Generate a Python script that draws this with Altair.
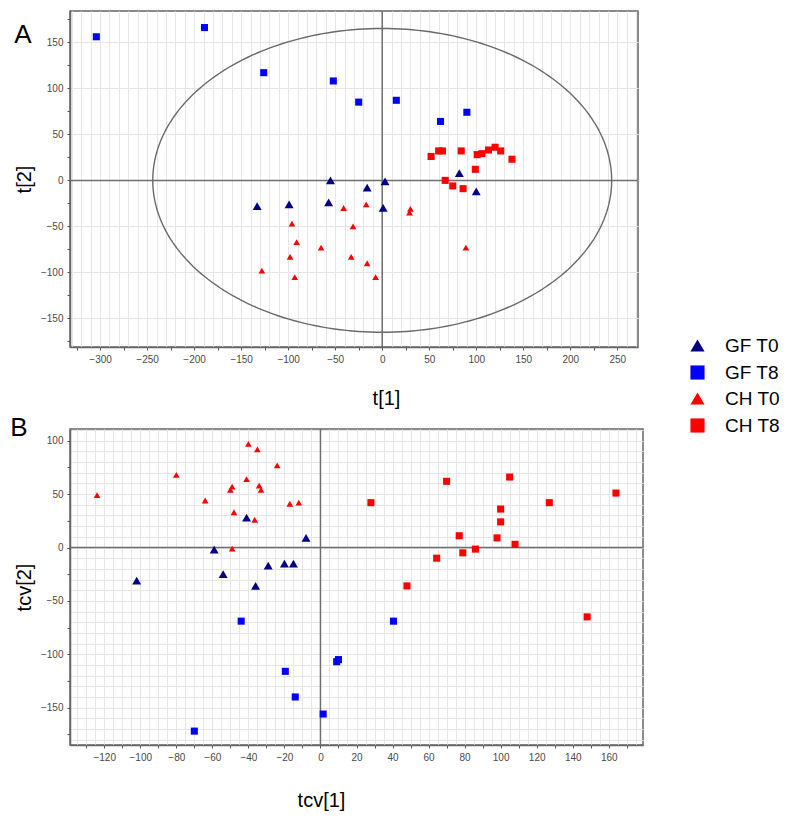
import altair as alt
import numpy as np
import pandas as pd

groups = ["GF T0", "GF T8", "CH T0", "CH T8"]
colors = ["#000080", "#0000ff", "#ff0000", "#ff0000"]
shapes = ["triangle-up", "square", "triangle-up", "square"]
sizes = [80, 50, 45, 50]

# Panel A (scores t[1], t[2])
a_gf_t0_x = [-133, -99, -55, -57, -16, 3, 1, 82, 100]
a_gf_t0_y = [-28, -26, 0, -24, -8, -1, -30, 8, -12]
a_gf_t8_x = [-304, -189, -126, -52, -25, 15, 62, 90]
a_gf_t8_y = [156, 166, 117, 108, 85, 87, 64, 74]
a_ch_t0_x = [-128, -96, -91, -98, -93, -65, -41, -31, -33, -17, -16, -7, 29, 30, 89]
a_ch_t0_y = [-98, -47, -67, -83, -105, -73, -30, -50, -83, -26, -90, -105, -35, -31, -73]
a_ch_t8_x = [52, 60, 64, 84, 67, 75, 86, 99, 101, 106, 113, 120, 126, 138]
a_ch_t8_y = [26, 32, 32, 32, 0, -6, -9, 12, 28, 29, 33, 36, 32, 23]

# Panel B (cross-validated scores tcv[1], tcv[2])
b_gf_t0_x = [-102, -59, -54, -41, -36, -29, -20, -15, -8]
b_gf_t0_y = [-31, -2, -25, 28, -36, -17, -15, -15, 9]
b_gf_t8_x = [-44, -70, -19.5, -14, 1.5, 9, 10, 40.5]
b_gf_t8_y = [-69, -172, -116, -140, -156, -107, -105, -69]
b_ch_t0_x = [-124, -80, -64, -49, -50, -48, -49, -40, -35, -41, -34, -33, -36.5, -24, -17, -12]
b_ch_t0_y = [49, 68, 44, 57, 54, 33, -1, 97, 92, 64, 58, 54, 26, 77, 41, 42]
b_ch_t8_x = [28, 70, 105, 164, 127, 100, 100, 77, 98, 108, 86, 79, 64.5, 48, 148]
b_ch_t8_y = [42, 62, 66, 51, 42, 36, 24, 11, 9, 3, -1.5, -5, -10, -36, -65]

# Hotelling T2 ellipse semi-axes (panel A)
ell_a, ell_b = 244, 165


def frame(series):
    rows = []
    for g, xs, ys in series:
        for x, y in zip(xs, ys):
            rows.append({"x": x, "y": y, "group": g})
    return pd.DataFrame(rows)


dfA = frame([("GF T0", a_gf_t0_x, a_gf_t0_y), ("GF T8", a_gf_t8_x, a_gf_t8_y),
             ("CH T0", a_ch_t0_x, a_ch_t0_y), ("CH T8", a_ch_t8_x, a_ch_t8_y)])
dfB = frame([("GF T0", b_gf_t0_x, b_gf_t0_y), ("GF T8", b_gf_t8_x, b_gf_t8_y),
             ("CH T0", b_ch_t0_x, b_ch_t0_y), ("CH T8", b_ch_t8_x, b_ch_t8_y)])

th = np.linspace(0, 2 * np.pi, 241)
dfE = pd.DataFrame({"x": ell_a * np.cos(th), "y": ell_b * np.sin(th), "o": np.arange(len(th))})

FONT = "Liberation Sans"


def cond(mod):
    return {"condition": {"test": f"datum.value % {mod} === 0", "value": 1}, "value": 0}


def make_axis(title, vals, gmod, tmod, lmod, tpad, **kw):
    return alt.Axis(
        title=title, values=vals, tickCount=1000, format="d", grid=True,
        gridColor="#e6e6e6", gridWidth=1,
        gridOpacity=cond(gmod), tickOpacity=cond(tmod), tickSize=3, tickColor="#555",
        labelExpr=f"datum.value % {lmod} === 0 ? datum.label : ''", labelOverlap=False,
        labelFont=FONT, labelFontSize=10, labelColor="#4a4a4a", labelPadding=4,
        domainColor="#666", domainWidth=1.5, titleFont=FONT, titleFontSize=20,
        titleFontWeight="normal", titleColor="#000", titlePadding=tpad, **kw,
    )


LEG = dict(orient="none", legendX=618, legendY=325, title=None, labelFont=FONT,
           labelFontSize=19, labelColor="#000", symbolSize=200, rowPadding=6,
           symbolOpacity=1, labelOffset=18)


def panel(df, xdom, ydom, xaxis, yaxis, w, h, label, lx, ly, ellipse=False):
    xs = alt.Scale(domain=xdom, nice=False, zero=False)
    ys = alt.Scale(domain=ydom, nice=False, zero=False)
    enc = dict(
        x=alt.X("x:Q", scale=xs, axis=xaxis),
        y=alt.Y("y:Q", scale=ys, axis=yaxis),
        color=alt.Color("group:N", scale=alt.Scale(domain=groups, range=colors), legend=alt.Legend(**LEG)),
        shape=alt.Shape("group:N", scale=alt.Scale(domain=groups, range=shapes), legend=alt.Legend(**LEG)),
    )
    pts = [
        alt.Chart(df).transform_filter(alt.datum.group == g)
        .mark_point(filled=True, opacity=1, size=s).encode(**enc)
        for g, s in zip(groups, sizes)
    ]
    zero = pd.DataFrame({"v": [0]})
    vr = alt.Chart(zero).mark_rule(color="#6e6e6e", strokeWidth=1.5).encode(x=alt.X("v:Q", scale=xs))
    hr = alt.Chart(zero).mark_rule(color="#6e6e6e", strokeWidth=1.5).encode(y=alt.Y("v:Q", scale=ys))
    txt = alt.Chart(pd.DataFrame({"t": [label]})).mark_text(
        font=FONT, fontSize=26, align="center", baseline="middle", color="#000"
    ).encode(x=alt.value(lx), y=alt.value(ly), text="t:N")
    layers = [vr, hr]
    if ellipse:
        layers.append(alt.Chart(dfE).mark_line(color="#6a6a6a", strokeWidth=1.4).encode(
            x=alt.X("x:Q", scale=xs), y=alt.Y("y:Q", scale=ys), order="o:Q"))
    layers += pts + [txt]
    return alt.layer(*layers).properties(width=w, height=h)


axAx = make_axis("t[1]", list(range(-330, 271, 5)), 10, 25, 50, 24, titleX=316)
axAy = make_axis("t[2]", list(range(-180, 181, 5)), 50, 25, 50, 6)
axBx = make_axis("tcv[1]", list(range(-135, 176, 5)), 5, 10, 20, 28, titleX=251)
axBy = make_axis("tcv[2]", list(range(-185, 111, 5)), 10, 25, 50, 6)

pA = panel(dfA, [-332, 272], [-181, 184], axAx, axAy, 568, 336, "A", -47, 24, ellipse=True)
pB = panel(dfB, [-139, 179], [-185, 111], axBx, axBy, 573, 316, "B", -51, -1)

chart = alt.vconcat(pA, pB, spacing=82, bounds="flush").properties(
    padding={"left": 1, "top": 0, "right": 0, "bottom": 0}
).configure_view(stroke="#666", strokeWidth=1.5)

chart.save("out.html", embed_options={"renderer": "svg", "actions": False})
